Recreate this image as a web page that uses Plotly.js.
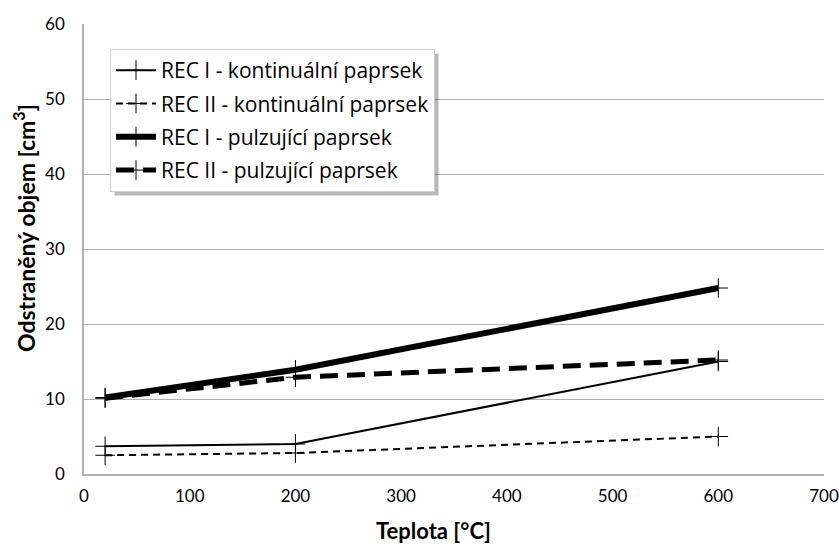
<!DOCTYPE html>
<html><head><meta charset="utf-8">
<script src="https://cdn.plot.ly/plotly-3.0.1.min.js"></script>
<style>body{margin:0;background:#fff}#c{width:839px;height:545px}</style>
</head><body><div id="c"></div>
<script>
const temps = [20, 200, 600];
const recI_cont = [3.7, 4.0, 15.0];
const recII_cont = [2.5, 2.8, 5.0];
const recI_puls = [10.2, 13.9, 24.8];
const recII_puls = [10.1, 12.9, 15.2];
const names = ["REC I - kontinuální paprsek", "REC II - kontinuální paprsek", "REC I - pulzující paprsek", "REC II - pulzující paprsek"];
const xTitle = "Teplota [°C]";
const yTitle = "Odstraněný objem [cm<sup>3</sup>]";

function tr(y, name, w, dash, g) {
  return {x: temps, y: y, name: name, mode: 'lines+markers', legendgroup: g,
    line: {color: '#000', width: w, dash: dash},
    marker: {symbol: 'cross-thin', size: 14, line: {color: '#000', width: 1}, color: '#000'}};
}
const data = [
  tr(recI_cont, names[0], 2, 'solid', 'a'),
  tr(recII_cont, names[1], 2, '7px,5px', 'b'),
  tr(recI_puls, names[2], 6, 'solid', 'c'),
  tr(recII_puls, names[3], 5, '18px,9px', 'd')
];
const F = 'Lato, "Open Sans", sans-serif';
const W = 740, H = 450, L = 84, T = 24;
const layout = {
  width: 839, height: 545,
  margin: {l: L, r: 15, t: T, b: 71},
  paper_bgcolor: '#fff', plot_bgcolor: '#fff',
  font: {family: F, color: '#000', size: 17},
  xaxis: {range: [0, 700], dtick: 100, tick0: 0, showgrid: false, zeroline: false,
    showline: true, linecolor: '#b0b0b0', linewidth: 1.5, ticks: '',
    tickfont: {size: 17}, ticklabelstandoff: 6},
  yaxis: {range: [0, 60], dtick: 10, tick0: 0, showgrid: true, gridcolor: '#b0b0b0', gridwidth: 1,
    zeroline: false, showline: true, linecolor: '#b0b0b0', linewidth: 1.5, ticks: '',
    tickfont: {size: 17}, ticklabelstandoff: 14},
  annotations: [
    {text: '<b>' + xTitle + '</b>', xref: 'paper', yref: 'paper', x: (433 - L) / W, y: (474 - 530) / H,
      xanchor: 'center', yanchor: 'middle', showarrow: false, font: {size: 22, family: F}},
    {text: '<b>' + yTitle + '</b>', xref: 'paper', yref: 'paper', x: (24 - L) / W, y: (474 - 228) / H,
      xanchor: 'center', yanchor: 'middle', showarrow: false, textangle: -90, font: {size: 23, family: F}}
  ],
  showlegend: true,
  legend: {x: (110 - L) / W, y: (474 - 49) / H, xanchor: 'left', yanchor: 'top', bgcolor: '#fff',
    bordercolor: '#d0d0d0', borderwidth: 1, font: {size: 21, family: 'Open Sans'},
    traceorder: 'grouped', tracegroupgap: 3, itemwidth: 40},
  shapes: [{type: 'rect', xref: 'paper', yref: 'paper', layer: 'above',
    x0: (113 - L) / W, x1: (449 - L) / W, y0: (474 - 196) / H, y1: (474 - 53) / H,
    fillcolor: 'rgba(0,0,0,0.28)', line: {width: 0}}]
};
Plotly.newPlot('c', data, layout, {displayModeBar: false}).then(function (gd) {
  const bg = gd.querySelector('.legend .bg');
  if (!bg) return;
  const r = bg.getBoundingClientRect();
  const o = 4;
  return Plotly.relayout(gd, {
    'shapes[0].x0': (r.left + o - L) / W, 'shapes[0].x1': (r.right + o - L) / W,
    'shapes[0].y0': (T + H - (r.bottom + o)) / H, 'shapes[0].y1': (T + H - (r.top + o)) / H
  });
});
</script></body></html>
